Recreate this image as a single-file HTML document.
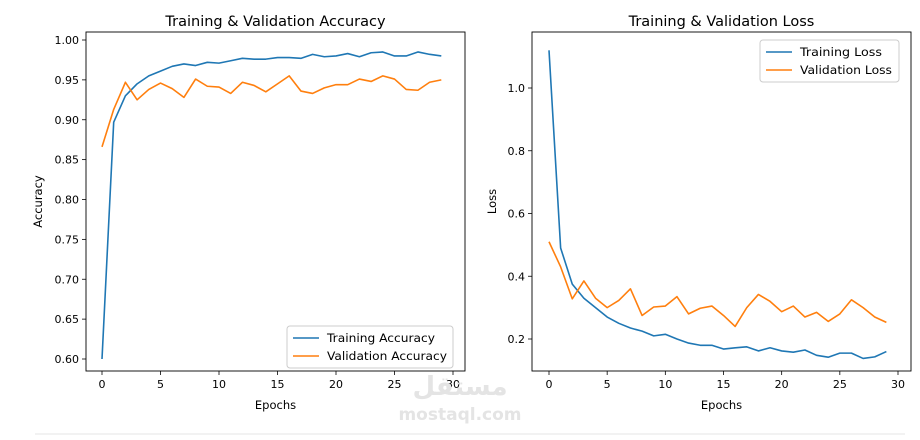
<!DOCTYPE html>
<html><head><meta charset="utf-8"><style>
body{margin:0;background:#fff;width:920px;height:435px;overflow:hidden;font-family:"Liberation Sans","DejaVu Sans",sans-serif;}
svg text{font-family:"DejaVu Sans","Liberation Sans",sans-serif;}
</style></head><body>
<svg id="chart" width="920" height="435" xmlns="http://www.w3.org/2000/svg"></svg>
<script>
const epochs=[0,1,2,3,4,5,6,7,8,9,10,11,12,13,14,15,16,17,18,19,20,21,22,23,24,25,26,27,28,29];
const trainAcc=[0.60,0.897,0.93,0.945,0.955,0.961,0.967,0.970,0.968,0.972,0.971,0.974,0.977,0.976,0.976,0.978,0.978,0.977,0.982,0.979,0.980,0.983,0.979,0.984,0.985,0.980,0.980,0.985,0.982,0.980];
const valAcc=[0.866,0.913,0.947,0.925,0.938,0.946,0.939,0.928,0.951,0.942,0.941,0.933,0.947,0.943,0.935,0.945,0.955,0.936,0.933,0.940,0.944,0.944,0.951,0.948,0.955,0.951,0.938,0.937,0.947,0.950];
const trainLoss=[1.12,0.49,0.375,0.33,0.30,0.27,0.25,0.235,0.225,0.21,0.215,0.20,0.187,0.18,0.18,0.168,0.172,0.175,0.162,0.172,0.162,0.158,0.165,0.148,0.142,0.155,0.155,0.138,0.143,0.16];
const valLoss=[0.51,0.43,0.328,0.385,0.33,0.30,0.323,0.36,0.275,0.302,0.305,0.335,0.28,0.298,0.305,0.275,0.24,0.30,0.342,0.32,0.287,0.305,0.27,0.285,0.256,0.28,0.325,0.30,0.27,0.253];
const xTicks=[0,5,10,15,20,25,30];
const accTicks=[0.60,0.65,0.70,0.75,0.80,0.85,0.90,0.95,1.00];
const lossTicks=[0.2,0.4,0.6,0.8,1.0];

const svg=document.getElementById('chart');
const NS='http://www.w3.org/2000/svg';
function mk(tag,attrs,parent){const e=document.createElementNS(NS,tag);for(const k in attrs)e.setAttribute(k,attrs[k]);(parent||svg).appendChild(e);return e;}
function txt(s,attrs,parent){const e=mk('text',attrs,parent);e.textContent=s;return e;}

function panel(cfg){
  const g=mk('g',{});
  
  
  const {x0,x1,y0,y1}=cfg.box;
  const xs=v=>cfg.px0+(v-0)*(cfg.px30-cfg.px0)/30;
  const ys=v=>cfg.py0+(v-cfg.v0)*(cfg.py1-cfg.py0)/(cfg.v1-cfg.v0);
  xTicks.forEach(t=>{
    const X=xs(t);
    const l=mk('line',{x1:X,x2:X,y1:y1,y2:y1+4,stroke:'#000','stroke-width':0.8},g);
    
    
    const tt=txt(String(t),{x:X,y:y1+17,'font-size':11,'text-anchor':'middle',fill:'#000'},g);
    
    
  });
  cfg.yTicks.forEach(t=>{
    const Y=ys(t);
    const l=mk('line',{x1:x0-4,x2:x0,y1:Y,y2:Y,stroke:'#000','stroke-width':0.8},g);
    
    
    const tt=txt(t.toFixed(cfg.dec),{x:x0-7,y:Y+4,'font-size':11,'text-anchor':'end',fill:'#000'},g);
    
    
  });
  cfg.series.forEach(s=>{
    const p=mk('polyline',{points:epochs.map((e,i)=>xs(e)+','+ys(s.data[i])).join(' '),fill:'none',stroke:s.color,'stroke-width':1.6,'stroke-linejoin':'round'},g);
    
    
  });
  const r=mk('rect',{x:x0,y:y0,width:x1-x0,height:y1-y0,fill:'none',stroke:'#000','stroke-width':0.9},g);
  
  
  const ti=txt(cfg.title,{x:(x0+x1)/2,y:y0-6,'font-size':14.5,'text-anchor':'middle'},g);
  
  
  const xl=txt('Epochs',{x:(x0+x1)/2,y:y1+38,'font-size':11.5,'text-anchor':'middle'},g);
  
  
  const cy=(y0+y1)/2;
  const yl=txt(cfg.ylabel,{x:cfg.ylx,y:cy,'font-size':11.5,'text-anchor':'middle',transform:`rotate(-90 ${cfg.ylx} ${cy})`},g);
  
  
  const L=cfg.legend;
  const lg=mk('g',{},g);
  
  
  mk('rect',{x:L.x,y:L.y,width:L.w,height:42,rx:3,fill:'#fff',stroke:'#ccc','stroke-width':1},lg);
  cfg.series.forEach((s,i)=>{
    const yy=L.y+12+i*18;
    mk('line',{x1:L.x+6,x2:L.x+32,y1:yy,y2:yy,stroke:s.color,'stroke-width':1.6},lg);
    const e=txt(s.label,{x:L.x+40,y:yy+4,'font-size':11.5,textLength:L.tl[i],lengthAdjust:'spacingAndGlyphs'},lg);
    
    
  });
}

panel({name:'accuracy-panel',box:{x0:86,x1:465,y0:32,y1:371},px0:102,px30:453,v0:0.60,v1:1.00,py0:359,py1:40,
  yTicks:accTicks,dec:2,title:'Training & Validation Accuracy',ylabel:'Accuracy',ylx:42,
  legend:{x:287,y:326,w:166,tl:[108,120]},
  series:[{id:'training-accuracy-line',label:'Training Accuracy',data:trainAcc,color:'#1f77b4'},
          {id:'validation-accuracy-line',label:'Validation Accuracy',data:valAcc,color:'#ff7f0e'}]});
panel({name:'loss-panel',box:{x0:532,x1:911,y0:32,y1:371},px0:549,px30:898,v0:0.2,v1:1.0,py0:339,py1:88,
  yTicks:lossTicks,dec:1,title:'Training & Validation Loss',ylabel:'Loss',ylx:496,
  legend:{x:760,y:40,w:139,tl:[82,92]},
  series:[{id:'training-loss-line',label:'Training Loss',data:trainLoss,color:'#1f77b4'},
          {id:'validation-loss-line',label:'Validation Loss',data:valLoss,color:'#ff7f0e'}]});

const wm=txt('مستقل',{x:460,y:395,'font-size':26,'font-weight':'bold','text-anchor':'middle',fill:'#e4e4e4'});


const wm2=txt('mostaql.com',{x:460,y:420,'font-size':17,'font-weight':'bold','text-anchor':'middle',fill:'#e4e4e4'});


const hl=mk('line',{x1:35,x2:905,y1:434,y2:434,stroke:'#e6e6e6','stroke-width':1});


</script>
</body></html>
